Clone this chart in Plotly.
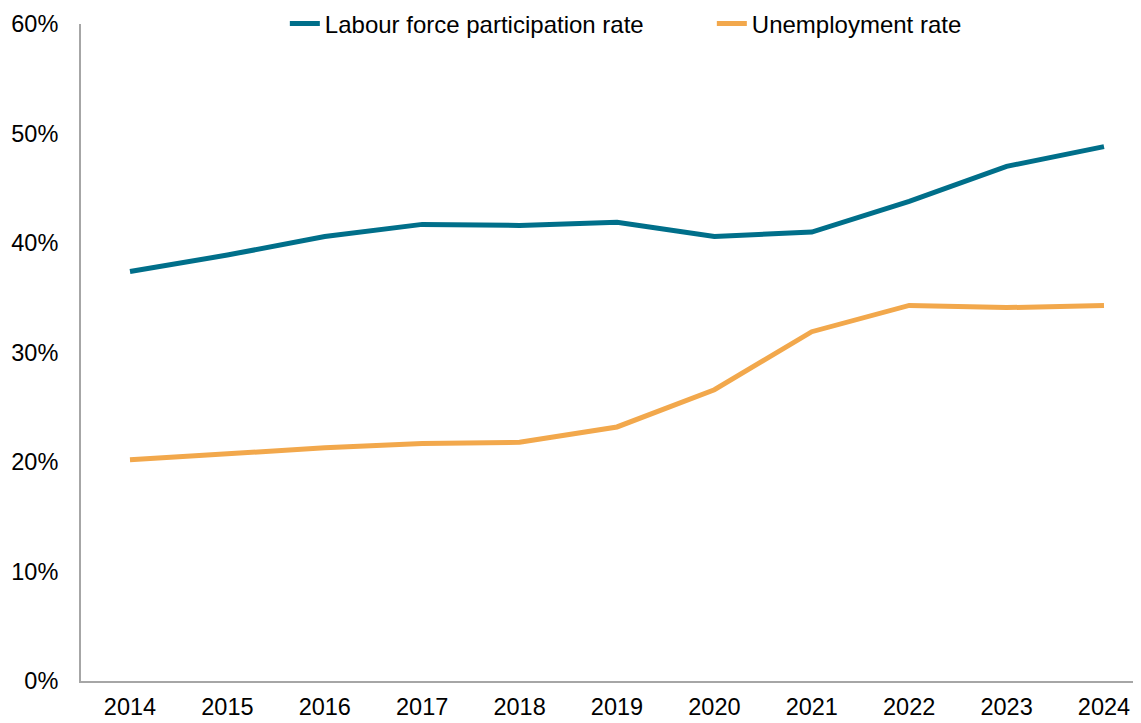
import plotly.graph_objects as go

years = ["2014", "2015", "2016", "2017", "2018", "2019", "2020", "2021", "2022", "2023", "2024"]
labour_force = [37.4, 38.9, 40.6, 41.7, 41.6, 41.9, 40.6, 41.0, 43.8, 47.0, 48.8]
unemployment = [20.2, 20.8, 21.3, 21.7, 21.8, 23.2, 26.6, 31.9, 34.3, 34.1, 34.3]
y_ticks = [0, 10, 20, 30, 40, 50, 60]
y_tick_labels = [f"{v}%" for v in y_ticks]

idx = list(range(len(years)))

fig = go.Figure()
fig.add_trace(go.Scatter(x=idx, y=labour_force, mode="lines", name="Labour force participation rate",
                         line=dict(color="#006f8a", width=5)))
fig.add_trace(go.Scatter(x=idx, y=unemployment, mode="lines", name="Unemployment rate",
                         line=dict(color="#f2a84c", width=5)))

font = dict(family="Liberation Sans, Arial, sans-serif", size=23.5, color="#000000")
legend_font = dict(family="Liberation Sans, Arial, sans-serif", size=24, color="#000000")

# the page body has an 8px margin, so the figure is drawn at (8, 8)
fig.update_layout(
    width=1133, height=715,
    margin=dict(l=73, r=0, t=16, b=42, autoexpand=False),
    paper_bgcolor="white", plot_bgcolor="white",
    font=font,
    showlegend=True,
    legend=dict(orientation="h", x=0.1923, xanchor="left", y=1.0, yanchor="middle",
                bgcolor="rgba(0,0,0,0)", font=legend_font, itemwidth=30,
                entrywidth=382, entrywidthmode="pixels"),
    xaxis=dict(
        tickmode="array", tickvals=idx, ticktext=years,
        range=[-0.503, 10.38], showgrid=False, zeroline=False,
        showline=True, linecolor="#a6a6a6", linewidth=2, ticks="",
        ticklabelstandoff=4, tickfont=font,
    ),
    yaxis=dict(
        tickmode="array", tickvals=y_ticks, ticktext=y_tick_labels,
        range=[0, 60], showgrid=False, zeroline=False,
        showline=True, linecolor="#a6a6a6", linewidth=2, ticks="",
        ticklabelstandoff=16, tickfont=font,
    ),
)

fig.write_html("out.html")
